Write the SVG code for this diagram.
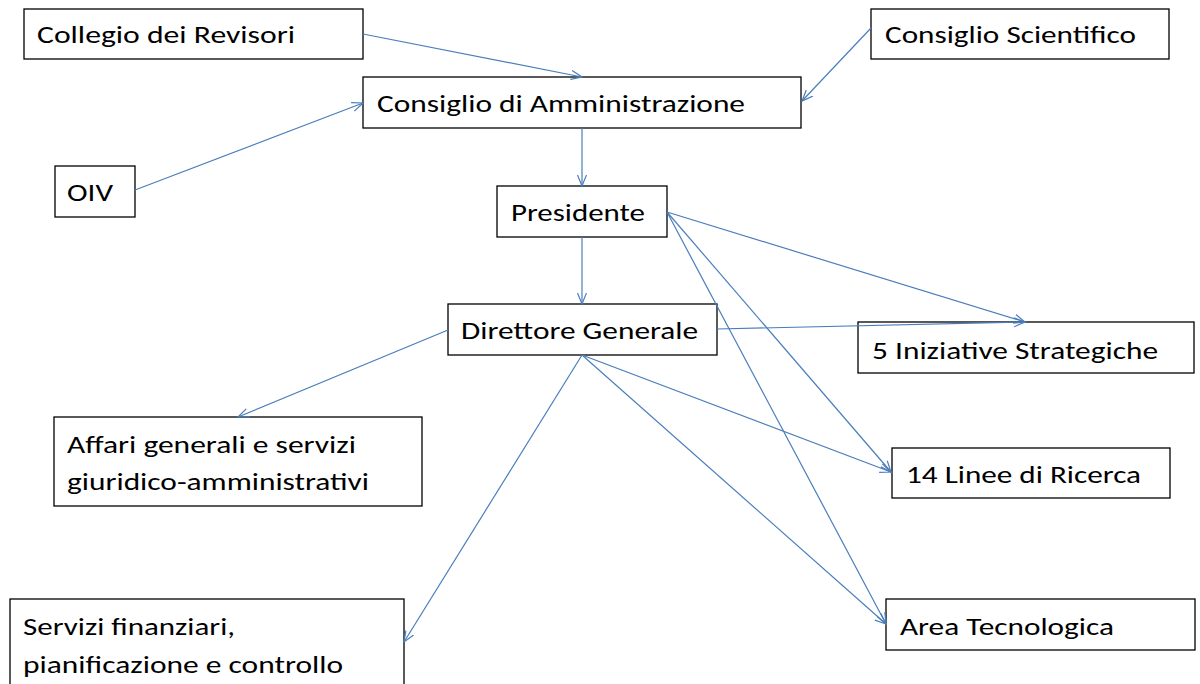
<svg xmlns="http://www.w3.org/2000/svg" width="1200" height="684" viewBox="0 0 1200 684">
<style>
.box{fill:#fff;stroke:#000;stroke-width:1.3}
.t{font-family:Carlito,Lato,"Open Sans",sans-serif;font-size:24px;fill:#000}
.c{stroke:#4a7ebb;stroke-width:1.2;fill:none;marker-end:url(#a)}
</style>
<defs>
<marker id="a" markerUnits="userSpaceOnUse" markerWidth="14" markerHeight="12" refX="11" refY="5" orient="auto">
<path d="M0,0.5 L11,5 L0,9.5" fill="none" stroke="#4a7ebb" stroke-width="1.2"/>
</marker>
</defs>
<rect width="1200" height="684" fill="#fff"/>
<g id="collegio"><rect class="box" x="24" y="9" width="339" height="50"/><text class="t" x="37" y="43" textLength="258" lengthAdjust="spacingAndGlyphs">Collegio dei Revisori</text></g>
<g id="scientifico"><rect class="box" x="871" y="9" width="298" height="50"/><text class="t" x="885" y="43" textLength="251" lengthAdjust="spacingAndGlyphs">Consiglio Scientifico</text></g>
<g id="cda"><rect class="box" x="363" y="77" width="438" height="51"/><text class="t" x="377" y="112" textLength="368" lengthAdjust="spacingAndGlyphs">Consiglio di Amministrazione</text></g>
<g id="oiv"><rect class="box" x="55" y="166" width="80" height="51"/><text class="t" x="67" y="201" textLength="46" lengthAdjust="spacingAndGlyphs">OIV</text></g>
<g id="presidente"><rect class="box" x="497" y="186" width="170" height="51"/><text class="t" x="511" y="221" textLength="134" lengthAdjust="spacingAndGlyphs">Presidente</text></g>
<g id="direttore"><rect class="box" x="448" y="304" width="269" height="51"/><text class="t" x="461" y="339" textLength="237" lengthAdjust="spacingAndGlyphs">Direttore Generale</text></g>
<g id="iniziative"><rect class="box" x="858" y="322" width="336" height="51"/><text class="t" x="872" y="359" textLength="286" lengthAdjust="spacingAndGlyphs">5 Iniziative Strategiche</text></g>
<g id="affari"><rect class="box" x="54" y="417" width="368" height="89"/><text class="t" x="67" y="453" textLength="289" lengthAdjust="spacingAndGlyphs">Affari generali e servizi</text><text class="t" x="67" y="490" textLength="302" lengthAdjust="spacingAndGlyphs">giuridico-amministrativi</text></g>
<g id="linee"><rect class="box" x="892" y="448" width="278" height="50"/><text class="t" x="906" y="483" textLength="235" lengthAdjust="spacingAndGlyphs">14 Linee di Ricerca</text></g>
<g id="servizi"><rect class="box" x="10" y="599" width="394" height="100"/><text class="t" x="23" y="635" textLength="212" lengthAdjust="spacingAndGlyphs">Servizi finanziari,</text><text class="t" x="23" y="673" textLength="320" lengthAdjust="spacingAndGlyphs">pianificazione e controllo</text></g>
<g id="area"><rect class="box" x="886" y="599" width="309" height="51"/><text class="t" x="900" y="635" textLength="214" lengthAdjust="spacingAndGlyphs">Area Tecnologica</text></g>
<g id="connectors">
<line class="c" x1="363" y1="34" x2="582" y2="77"/>
<line class="c" x1="871" y1="28" x2="802" y2="101"/>
<line class="c" x1="135" y1="190" x2="363" y2="103"/>
<line class="c" x1="582" y1="128" x2="582" y2="186"/>
<line class="c" x1="582" y1="237" x2="582" y2="304"/>
<line class="c" x1="667" y1="212" x2="1025" y2="322"/>
<line class="c" x1="667" y1="212" x2="891" y2="472"/>
<line class="c" x1="667" y1="212" x2="886" y2="624"/>
<line class="c" x1="717" y1="329" x2="1025" y2="322"/>
<line class="c" x1="582" y1="355" x2="891" y2="472"/>
<line class="c" x1="582" y1="355" x2="886" y2="624"/>
<line class="c" x1="448" y1="330" x2="238" y2="417"/>
<line class="c" x1="582" y1="355" x2="404" y2="642"/>
</g>
</svg>
